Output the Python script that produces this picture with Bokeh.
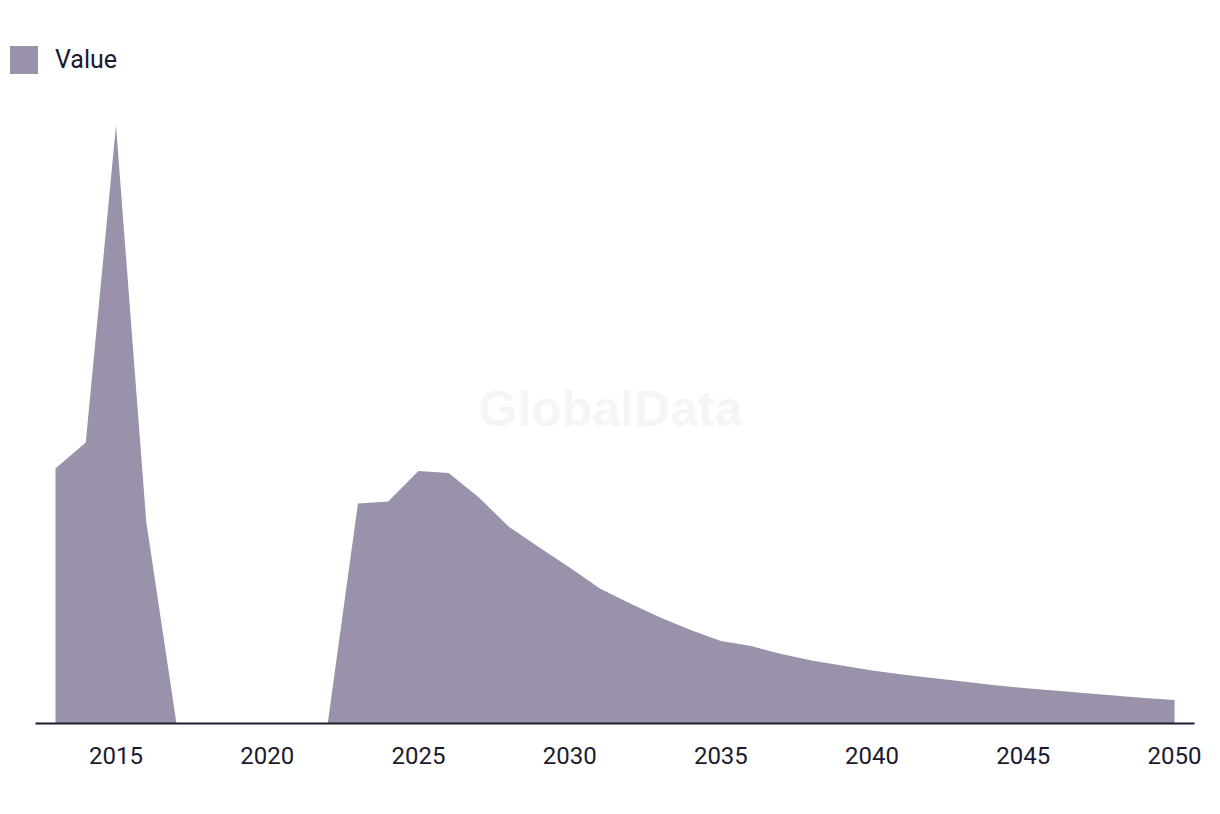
from bokeh.plotting import figure
from bokeh.models import Range1d, FixedTicker, Legend, LegendItem, Label
from bokeh.embed import file_html
from bokeh.resources import INLINE

years = list(range(2013, 2051))
values = [255, 281, 598, 202, 0, 0, 0, 0, 0, 0,
          220, 222, 252.5, 250.5, 226, 196.5, 176, 156, 135, 120,
          106, 93.5, 82.5, 77.5, 69.5, 63, 58, 53, 49, 45.5,
          42, 38.5, 35.5, 33, 30.5, 28, 25.5, 23.5]
tick_years = [2015, 2020, 2025, 2030, 2035, 2040, 2045, 2050]
series_name = "Value"
watermark = "GlobalData"

FILL = "#9a91aa"
INK = "#1c1a2e"

p = figure(width=1212, height=798, output_backend="svg", toolbar_location=None,
           x_range=Range1d(2011.38, 2050.66), y_range=Range1d(0, 683),
           min_border_left=6, min_border_right=18, min_border_top=40,
           min_border_bottom=75)
p.outline_line_color = None
p.grid.visible = False
p.yaxis.visible = False
p.background_fill_color = "white"
p.border_fill_color = "white"

wm = Label(x=2031.35, y=315, text=watermark, text_align="center", text_baseline="middle",
           text_font="Liberation Sans", text_font_style="bold", text_font_size="50px",
           text_color="#f5f5f5")
p.add_layout(wm)

r = p.varea(x=years, y1=[0] * len(years), y2=values, fill_color=FILL, fill_alpha=1.0)

ax = p.xaxis[0]
ax.bounds = (2012.34, 2050.66)
ax.ticker = FixedTicker(ticks=tick_years)
ax.major_tick_line_color = None
ax.minor_tick_line_color = None
ax.axis_line_color = INK
ax.axis_line_width = 2
ax.major_label_text_font = "Roboto"
ax.major_label_text_font_size = "24px"
ax.major_label_text_color = INK
ax.major_label_standoff = 17

legend = Legend(items=[LegendItem(label=series_name, renderers=[r])],
                location=(0, 646), orientation="horizontal",
                glyph_width=35, glyph_height=35, label_standoff=14,
                padding=0, margin=0, spacing=0,
                background_fill_alpha=0, border_line_color=None,
                label_text_font="Roboto", label_text_font_size="25px",
                label_text_color=INK)
p.add_layout(legend)

open("out.html", "w").write(file_html(p, INLINE))
